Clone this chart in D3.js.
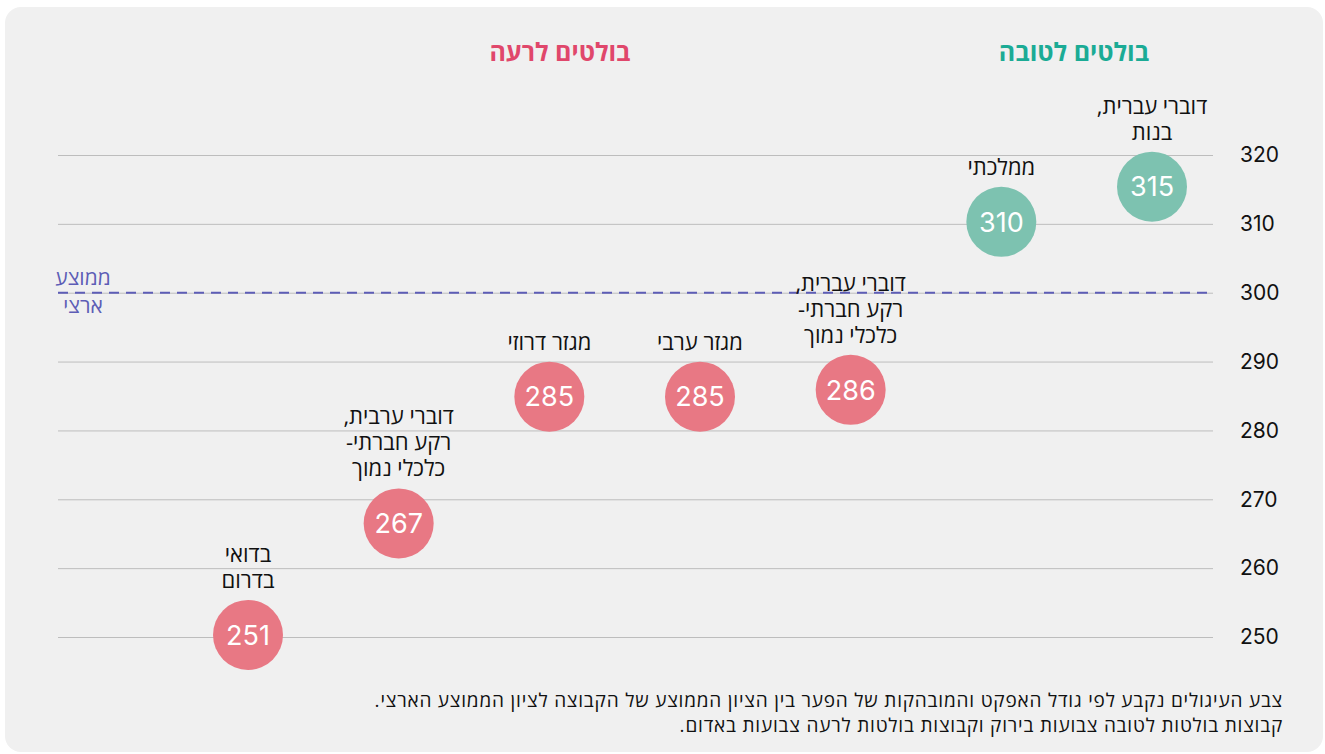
<!DOCTYPE html>
<html><head><meta charset="utf-8">
<script src="https://cdn.jsdelivr.net/npm/d3@7"></script>
<style>
body{margin:0;background:#fff;}
svg{display:block;font-family:"Open Sans","Noto Sans","Liberation Sans",sans-serif;}
</style></head>
<body><svg id="c" width="1325" height="754"></svg>
<script>
const categories = ["בדואי\nבדרום","דוברי ערבית,\nרקע חברתי-\nכלכלי נמוך","מגזר דרוזי","מגזר ערבי","דוברי עברית,\nרקע חברתי-\nכלכלי נמוך","ממלכתי","דוברי עברית,\nבנות"];
// displayed scores
const scores = [251, 267, 285, 285, 286, 310, 315];
// vertical positions of the circles
const positions = [250.3, 266.5, 284.9, 284.9, 285.9, 310.3, 315.4];
const groups = ["bad","bad","bad","bad","bad","good","good"];
const yTicks = [250,260,270,280,290,300,310,320];
const nationalAvg = 300;
const avgLabel = ["ממוצע","ארצי"];
const headers = [{text:"בולטים לרעה", g:"bad"},{text:"בולטים לטובה", g:"good"}];
const footnote = ["צבע העיגולים נקבע לפי גודל האפקט והמובהקות של הפער בין הציון הממוצע של הקבוצה לציון הממוצע הארצי.","קבוצות בולטות לטובה צבועות בירוק וקבוצות בולטות לרעה צבועות באדום."];

const fill = {bad:"#e87884", good:"#7dc2b0"};
const headColor = {bad:"#e0476b", good:"#1bab95"};

const svg = d3.select("#c");
svg.append("rect").attr("x",5).attr("y",7).attr("width",1318).attr("height",745).attr("rx",16).attr("fill","#f0f0f0");

const y = d3.scaleLinear().domain([250,320]).range([637,155]);
const x = d3.scalePoint().domain(d3.range(categories.length)).range([248,1152]);
const gridX0 = 58, gridX1 = 1213;

const axis = d3.axisRight(y).tickValues(yTicks).tickSize(gridX1-gridX0).tickPadding(27);
const ag = svg.append("g").attr("transform",`translate(${gridX0},0)`).call(axis);
ag.select(".domain").remove();
ag.selectAll(".tick line").attr("stroke","#bdbdbd").attr("stroke-width",1);
ag.selectAll(".tick text").attr("font-size",21).attr("fill","#111").attr("font-family","Inter,'Open Sans',sans-serif");

// national average dashed line
svg.append("line").attr("x1",gridX0).attr("x2",gridX1).attr("y1",y(nationalAvg)).attr("y2",y(nationalAvg))
  .attr("stroke","#5d5db6").attr("stroke-width",2).attr("stroke-dasharray","10,7");
svg.append("text").attr("text-anchor","middle").attr("fill","#5d5db6").attr("font-size",21)
  .selectAll("tspan").data(avgLabel).join("tspan").attr("x",83).attr("y",(d,i)=>y(nationalAvg)-8+i*28).text(d=>d);

// headers
const headX = {bad:560, good:1074};
svg.selectAll(".hd").data(headers).join("text").attr("class","hd")
  .attr("x",d=>headX[d.g]).attr("y",61).attr("text-anchor","middle").attr("font-size",25).attr("font-weight","bold")
  .attr("fill",d=>headColor[d.g]).attr("direction","rtl").text(d=>d.text);

const r = 35;
const pts = svg.selectAll(".pt").data(positions).join("g").attr("class","pt")
  .attr("transform",(d,i)=>`translate(${x(i)},${y(d)})`);
pts.append("circle").attr("r",r).attr("fill",(d,i)=>fill[groups[i]]);
pts.append("text").attr("text-anchor","middle").attr("dy","0.36em").attr("font-size",27).attr("fill","#fff")
  .attr("font-family","Inter,'Open Sans',sans-serif").text((d,i)=>scores[i]);

// labels
pts.each(function(d,i){
  const lines = categories[i].split("\n");
  const t = d3.select(this).append("text").attr("text-anchor","middle").attr("font-size",22).attr("fill","#111")
    .attr("direction","rtl");
  const n = lines.length;
  lines.forEach((l,k)=>{
    t.append("tspan").attr("x",0).attr("y",-r-12-(n-1-k)*26).text(l);
  });
});

// footnote
svg.append("text").attr("text-anchor","start").attr("font-size",19).attr("letter-spacing",0.8).attr("fill","#111").attr("direction","rtl")
  .selectAll("tspan").data(footnote).join("tspan").attr("x",1283).attr("y",(d,i)=>707+i*25).text(d=>d);
</script></body></html>
